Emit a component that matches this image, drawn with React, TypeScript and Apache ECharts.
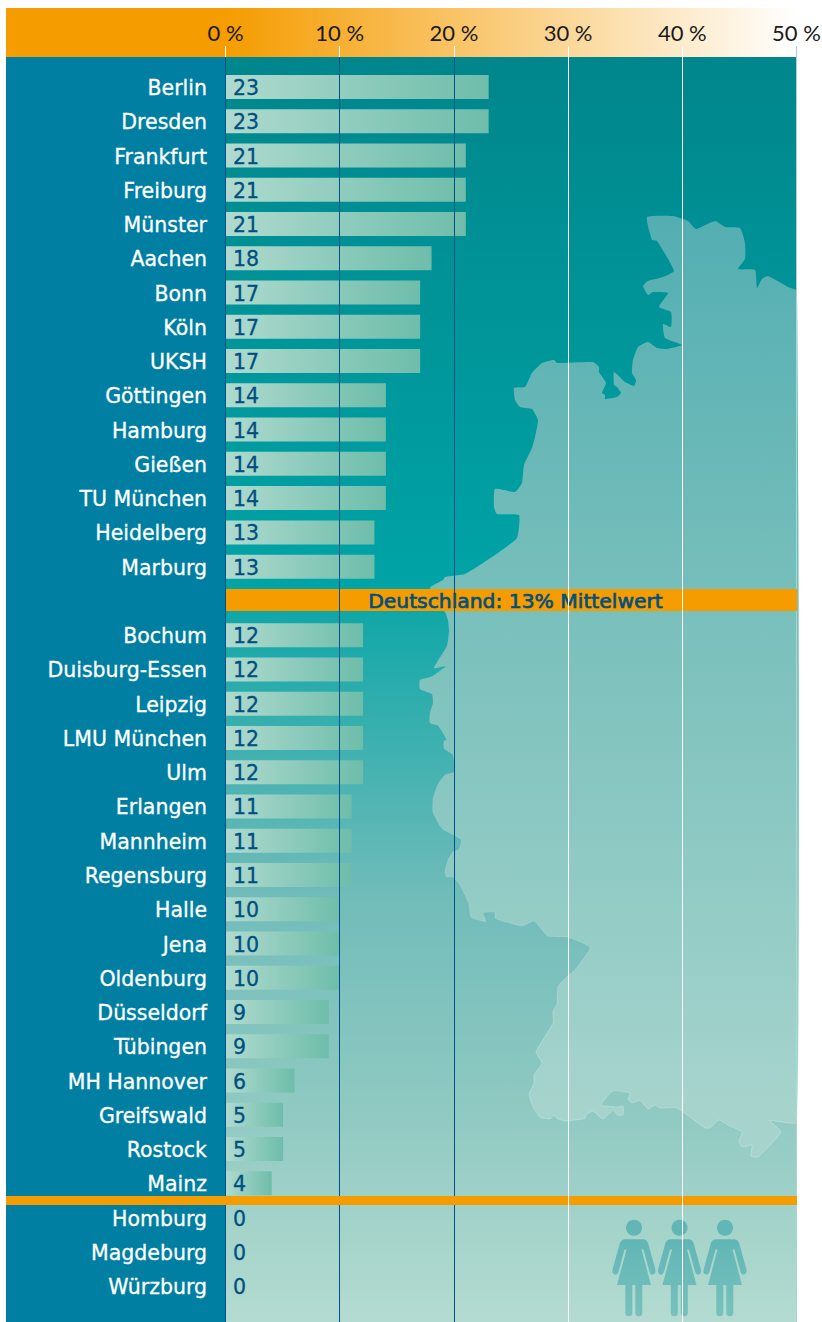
import React, { useEffect, useRef } from "react";
import * as echarts from "echarts";

const categories = ["Berlin","Dresden","Frankfurt","Freiburg","Münster","Aachen","Bonn","Köln","UKSH","Göttingen","Hamburg","Gießen","TU München","Heidelberg","Marburg","","Bochum","Duisburg-Essen","Leipzig","LMU München","Ulm","Erlangen","Mannheim","Regensburg","Halle","Jena","Oldenburg","Düsseldorf","Tübingen","MH Hannover","Greifswald","Rostock","Mainz","Homburg","Magdeburg","Würzburg"];
const values = [23,23,21,21,21,18,17,17,17,14,14,14,14,13,13,null,12,12,12,12,12,11,11,11,10,10,10,9,9,6,5,5,4,0,0,0];
const meanLabel = "Deutschland: 13% Mittelwert";
const axisTicks = [0, 10, 20, 30, 40, 50];

const mapOutline: number[][] = [[647,217],[673,216],[688,221],[696,229],[715,221],[725,227],[740,228],[745,243],[745,259],[738,269],[755,270],[757,288],[762,279],[768,276],[788,287],[797,291],[797,1122],[770,1120.5],[781,1132],[758,1157],[751,1156],[752,1145],[742,1147],[739,1141.5],[742,1132],[728,1125],[719,1120],[710,1128],[705,1128],[677,1108],[660,1108],[655,1105],[648,1109],[640,1100.5],[632,1103],[628,1099],[630,1093],[613,1091],[601,1105],[617,1107],[623,1106],[623,1115],[617,1115],[613,1110],[603,1119],[593,1111],[586,1115],[585,1118.5],[565,1121],[557,1118.5],[554,1115],[550,1119],[540,1117],[533,1107],[529,1094],[534,1084],[534,1075],[542,1063],[536,1052],[553,1023],[553,1011],[557,1004],[558,986.5],[568,976],[575,970],[590,947.5],[568,937],[548,936],[534,921],[522,926],[510,923],[502,921],[495,918],[495,912],[483,913],[486,921.5],[471,917],[469,904],[460,885],[453,877],[447,877],[445,872],[448,860],[453,852],[459,849.5],[461,839.5],[442,828.5],[433,812],[433,799],[438,784],[445,775],[454,772],[453,755],[444,748.5],[444,741],[447,740],[438,725.5],[430,723],[430,713],[433,703],[432,694],[420,689],[420,680],[432,676.5],[446,666],[434,668],[447,646],[449,631],[448,620],[445,612],[430,588],[443,580],[445,577],[465,574],[483,563],[498,553],[517,538],[519,515],[497,514],[494,507],[495,489],[515,492],[522,483],[524,465],[532,448],[535,437],[538,420],[532,409],[520,407],[515,400],[514,388],[525,387],[532,373],[542,363],[554,360],[557,363],[593,362],[599,367],[599,372],[606,383],[602,393],[605,395],[605,399],[617,397],[621,393],[617,387],[614,385],[614,372],[625,382],[634,386],[636,380],[632,373],[633,360],[638,347],[648,342],[657,348],[667,349],[682,345],[665,338],[663,324],[671,327],[671,312],[659,307],[668,293],[653,292],[648,295],[643,286],[648,281],[663,277],[674,271],[657,241],[652,240]];

const womanPath = "M-10 11.5L10 11.5Q13 12 14 15L21.5 42Q22 47 18.5 47Q16.5 47 15.5 44L9.5 21.7L7.5 21.7L17 57.3L8.3 57.3L8.3 85Q8.3 88.5 5 88.5Q1.3 88.5 1.3 85L1.3 57.3L-1.7 57.3L-1.7 85Q-1.7 88.5 -5 88.5Q-8.7 88.5 -8.7 85L-8.7 57.3L-17 57.3L-7.5 21.7L-9.5 21.7L-15.5 44Q-16.5 47 -18.5 47Q-22 47 -21.5 42L-14 15Q-13 12 -10 11.5Z";
echarts.graphic.registerShape("woman", echarts.graphic.extendPath(womanPath, {}));

const FONT = "'DejaVu Sans', sans-serif";
const LEFT = 226, RIGHT = 797, ROW = 34.26, FIRST_ROW = 87;
const INK = "#00507f";
const vGrad = (stops: [number, string][]) => new echarts.graphic.LinearGradient(0, 0, 0, 1, stops.map(([offset, color]) => ({ offset, color })));
const hGrad = (stops: [number, string][]) => new echarts.graphic.LinearGradient(0, 0, 1, 0, stops.map(([offset, color]) => ({ offset, color })));

export default function App() {
  const ref = useRef<HTMLDivElement>(null);
  useEffect(() => {
    const chart = echarts.init(ref.current!, undefined, { renderer: "svg" });
    const woman = (x: number) => ({
      type: "woman", x, y: 1227.7,
      style: { fill: vGrad([[0, "#62b6b6"], [1, "#76c1bd"]]) },
    });
    const head = (cx: number) => ({ type: "circle", shape: { cx, cy: 1227.7, r: 8 }, style: { fill: "#62b6b6" } });
    const overBand = (x: number) => ({ type: "line", z: 8, shape: { x1: x, y1: 1196, x2: x, y2: 1205 }, style: { stroke: "#ffffff", lineWidth: 1 } });
    chart.setOption({
      animation: false,
      grid: [
        { left: LEFT, top: FIRST_ROW - ROW / 2, width: RIGHT - LEFT, height: ROW * categories.length, outerBoundsMode: "none" },
        { left: LEFT - 0.5, top: 57, width: RIGHT - LEFT, height: 1322 - 57, outerBoundsMode: "none" },
        { left: LEFT, top: FIRST_ROW - ROW / 2 + 1, width: RIGHT - LEFT, height: ROW * categories.length, outerBoundsMode: "none" },
      ],
      xAxis: [
        { gridIndex: 0, type: "value", min: 0, max: 50, show: false },
        {
          gridIndex: 1, type: "value", position: "top", min: 0, max: 50, interval: 10, z: 5,
          axisLine: { show: false, onZero: false },
          axisTick: { show: true, length: 11, lineStyle: { color: "#ffffff", width: 1 } },
          axisLabel: { margin: 14, color: "#1a1a1a", fontFamily: "Lato", fontWeight: 400, fontSize: 22, formatter: (v: number) => `${v} %` },
          splitLine: { show: true, lineStyle: { width: 1, color: axisTicks.map((t) => (t <= 20 ? "#00518a" : t < 50 ? "#ffffff" : "rgba(0,0,0,0)")) } },
        },
        { gridIndex: 2, type: "value", min: 0, max: 50, show: false },
      ],
      yAxis: [
        { gridIndex: 0, type: "category", inverse: true, data: categories, show: false },
        { gridIndex: 1, type: "value", show: false, min: 0, max: 1 },
        {
          gridIndex: 2, type: "category", inverse: true, data: categories, z: 6,
          axisLine: { show: false }, axisTick: { show: false },
          axisLabel: { margin: 19, color: "#ffffff", fontFamily: FONT, fontSize: 20.5, interval: 0, textBorderColor: "#ffffff", textBorderWidth: 0.3 },
          splitLine: { show: false },
        },
      ],
      graphic: [
        { type: "rect", shape: { x: 6, y: 8, width: 791, height: 49 }, style: { fill: hGrad([[0, "#f59c00"], [0.278, "#f59c00"], [1, "#ffffff"]]) } },
        { type: "rect", shape: { x: 6, y: 57, width: 220, height: 1265 }, style: { fill: "#007fa3" } },
        { type: "rect", shape: { x: LEFT, y: 57, width: RIGHT - LEFT, height: 1265 }, style: { fill: vGrad([[0, "#00868c"], [0.413, "#00a3a6"], [0.445, "#14a7a8"], [0.667, "#72bcba"], [0.83, "#8fc9c2"], [1, "#b4dbd1"]]) } },
        { type: "polygon", shape: { points: mapOutline, smooth: 0.15 }, style: { fill: vGrad([[0, "#53aeb2"], [0.41, "#78bfbb"], [0.95, "#a6d4cd"], [1, "#a6d4cd"]]), stroke: vGrad([[0, "rgba(255,255,255,0)"], [0.45, "rgba(255,255,255,0.02)"], [1, "rgba(255,255,255,0.25)"]]), lineWidth: 1 } },
        { type: "line", shape: { x1: RIGHT - 0.5, y1: 57, x2: RIGHT - 0.5, y2: 1322 }, style: { stroke: "#a5dad2", lineWidth: 1 } },
        { type: "rect", shape: { x: LEFT, y: 589, width: RIGHT - LEFT, height: 22 }, style: { fill: "#f59c00" } },
        { type: "text", x: 515.5, y: 601, style: { text: meanLabel, fill: INK, font: `20.3px ${FONT}`, align: "center", verticalAlign: "middle", stroke: INK, lineWidth: 0.7 } },
        { type: "rect", z: 7, shape: { x: 6, y: 1196, width: RIGHT - 6, height: 9 }, style: { fill: "#f59c00" } },
        overBand(568.5), overBand(682.5),
        head(634), woman(634), head(679.5), woman(679.5), head(725), woman(725),
        { type: "line", z: 7, shape: { x1: RIGHT - 0.5, y1: 46, x2: RIGHT - 0.5, y2: 57 }, style: { stroke: "#a5dad2", lineWidth: 1 } },
      ],
      series: [
        {
          type: "bar", xAxisIndex: 0, yAxisIndex: 0, z: 2, barWidth: 24, silent: true,
          data: values,
          itemStyle: { color: hGrad([[0, "#afdacf"], [1, "#6ebdaa"]]) },
          label: { show: true, position: "insideLeft", distance: 7, offset: [0, 1], color: INK, fontFamily: FONT, fontSize: 20.5, textBorderColor: INK, textBorderWidth: 0.3 },
        },
        { type: "bar", xAxisIndex: 1, yAxisIndex: 1, data: [], silent: true },
      ],
    });
    return () => chart.dispose();
  }, []);
  return <div ref={ref} style={{ position: "absolute", left: 0, top: 0, width: 822, height: 1322 }} />;
}
